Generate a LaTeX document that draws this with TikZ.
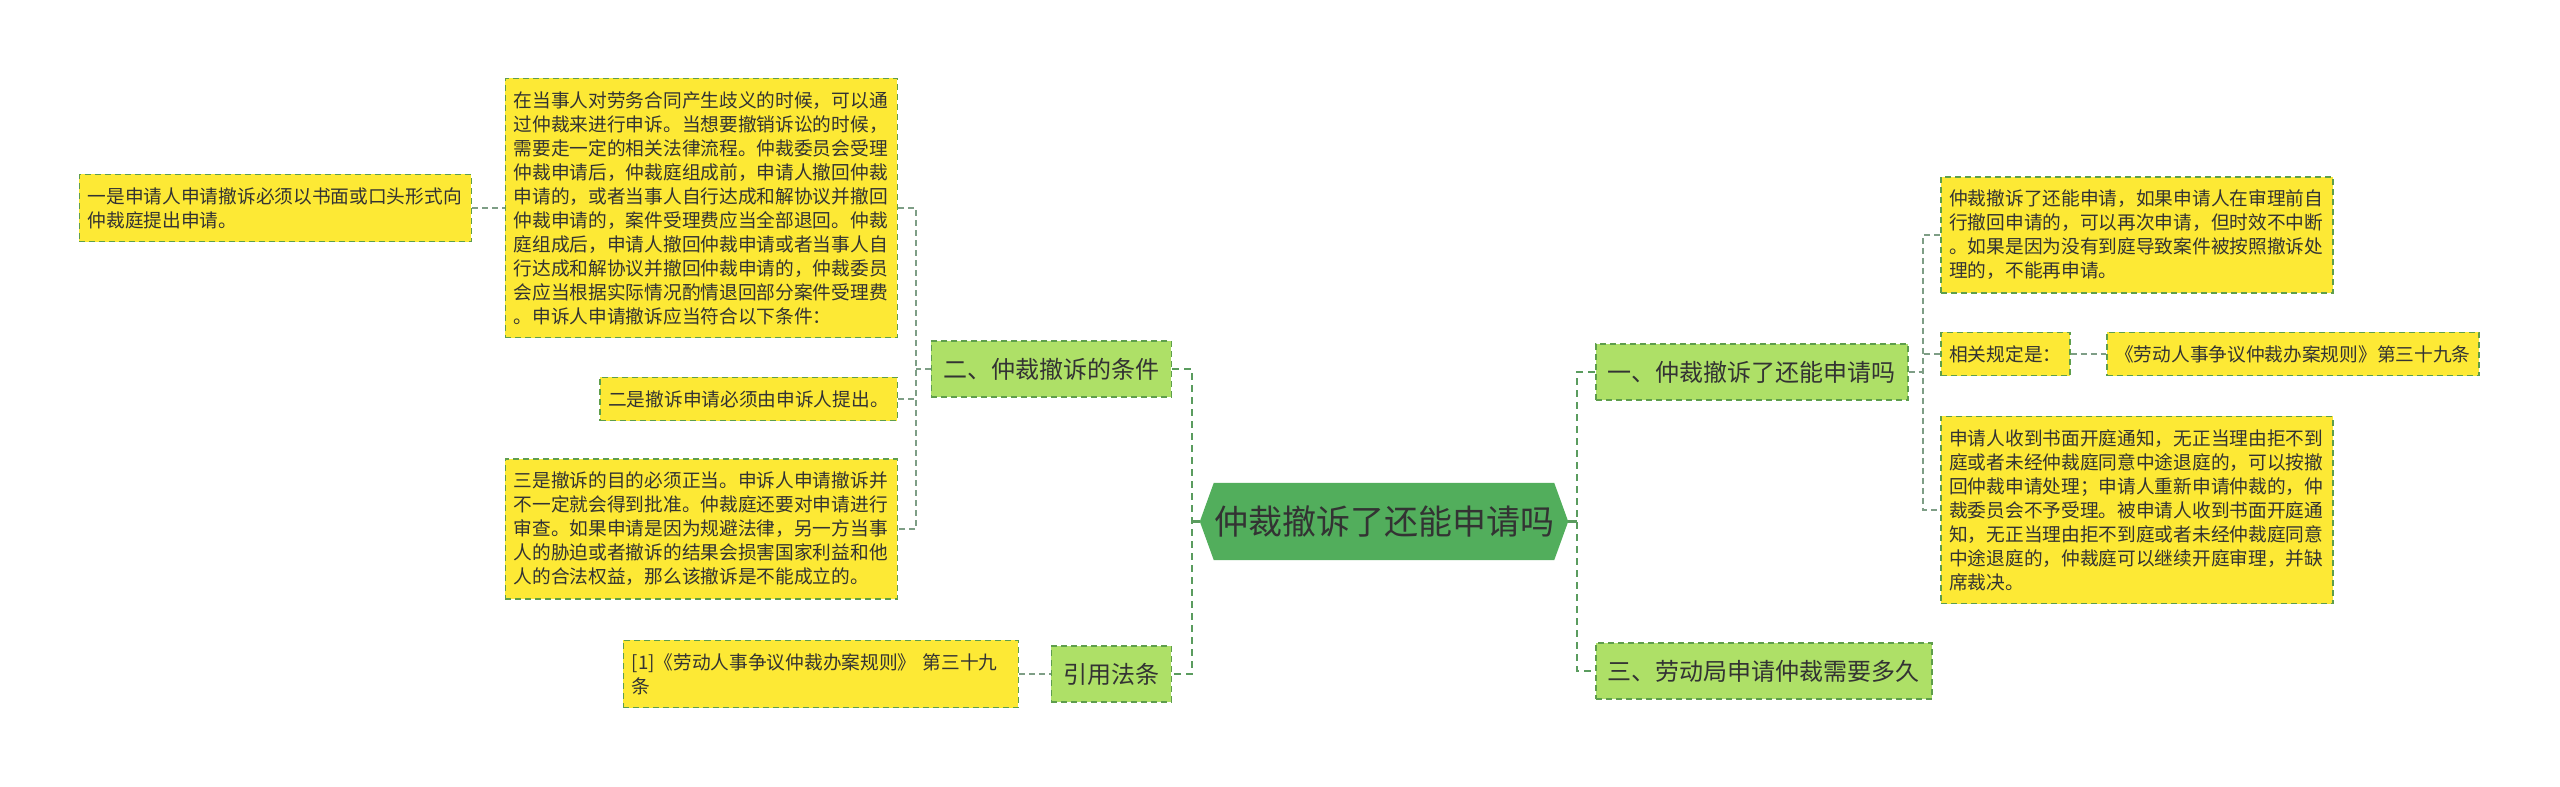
\documentclass[tikz,border=0pt]{standalone}
\usepackage{fontspec}
\setmainfont{Noto Sans CJK SC}
\usetikzlibrary{backgrounds}
\definecolor{yel}{HTML}{FDE935}
\definecolor{lgreen}{HTML}{AEE067}
\definecolor{cgreen}{HTML}{52AE5C}
\definecolor{bord}{HTML}{5E9E4C}
\definecolor{busc}{HTML}{5A9C5E}
\definecolor{subc}{HTML}{7E9E86}
\definecolor{txt}{HTML}{333333}
\begin{document}
\begin{tikzpicture}[x=1pt,y=-1pt,
 ybox/.style={rectangle, fill=yel, draw=bord, line width=1.5pt, dash pattern=on 6pt off 4pt, text=txt, font=\fontsize{18.7}{24}\selectfont, inner xsep=8.5pt, inner ysep=13pt, align=left},
 ybox20/.style={ybox, text width=375pt},
 gbox/.style={rectangle, fill=lgreen, draw=bord, line width=1.5pt, dash pattern=on 6pt off 4pt, text=txt, font=\fontsize{24}{28}\selectfont, inner xsep=12pt, inner ysep=0pt, minimum height=56pt},
 cnode/.style={rectangle, inner sep=0pt, minimum width=328pt, minimum height=77pt, text=txt, font=\fontsize{34}{40}\selectfont},
 bus/.style={draw=busc, line width=2.5pt, dash pattern=on 7pt off 5pt},
 subline/.style={draw=subc, line width=1.6pt, dash pattern=on 6pt off 4pt},
 stub/.style={draw=busc, line width=2.5pt}
]
\useasboundingbox (0,0) rectangle (2560,787);
\begin{scope}[on background layer]
\fill[white] (0,0) rectangle (2560,787);
\end{scope}

% central
\node[cnode] (c) at (1384,521.5) {仲裁撤诉了还能申请吗};
\begin{scope}[on background layer]
\fill[cgreen] (c.north west) -- ([xshift=-14pt]c.west) -- (c.south west) -- (c.south east) -- ([xshift=14pt]c.east) -- (c.north east) -- cycle;
\end{scope}
\coordinate (cL) at ([xshift=-14pt]c.west);
\coordinate (cR) at ([xshift=14pt]c.east);

% left side
\node[gbox, anchor=east] (n2) at (1172,369) {二、仲裁撤诉的条件};
\node[gbox, anchor=east] (nref) at (1172,674) {引用法条};
\node[ybox20, anchor=east] (big) at (898,208) {在当事人对劳务合同产生歧义的时候，可以通\\过仲裁来进行申诉。当想要撤销诉讼的时候，\\需要走一定的相关法律流程。仲裁委员会受理\\仲裁申请后，仲裁庭组成前，申请人撤回仲裁\\申请的，或者当事人自行达成和解协议并撤回\\仲裁申请的，案件受理费应当全部退回。仲裁\\庭组成后，申请人撤回仲裁申请或者当事人自\\行达成和解协议并撤回仲裁申请的，仲裁委员\\会应当根据实际情况酌情退回部分案件受理费\\。申诉人申请撤诉应当符合以下条件：};
\node[ybox20, anchor=east] (y1) at (472,208) {一是申请人申请撤诉必须以书面或口头形式向\\仲裁庭提出申请。};
\node[ybox, anchor=east] (y2) at (898,399) {二是撤诉申请必须由申诉人提出。};
\node[ybox20, anchor=east] (y3) at (898,529) {三是撤诉的目的必须正当。申诉人申请撤诉并\\不一定就会得到批准。仲裁庭还要对申请进行\\审查。如果申请是因为规避法律，另一方当事\\人的胁迫或者撤诉的结果会损害国家利益和他\\人的合法权益，那么该撤诉是不能成立的。};
\node[ybox, text width=378pt, anchor=east] (yref) at (1019,674) {[1]《劳动人事争议仲裁办案规则》 第三十九\\条};

% right side
\node[gbox, anchor=west] (n1) at (1595,372) {一、仲裁撤诉了还能申请吗};
\node[gbox, anchor=west] (n3) at (1595,671) {三、劳动局申请仲裁需要多久};
\node[ybox20, anchor=west] (rt) at (1940,235) {仲裁撤诉了还能申请，如果申请人在审理前自\\行撤回申请的，可以再次申请，但时效不中断\\。如果是因为没有到庭导致案件被按照撤诉处\\理的，不能再申请。};
\node[ybox, anchor=west] (rrel) at (1940,354) {相关规定是：};
\node[ybox, anchor=west] (rlaw) at (2106,354) {《劳动人事争议仲裁办案规则》第三十九条};
\node[ybox20, anchor=west] (rb) at (1940,510) {申请人收到书面开庭通知，无正当理由拒不到\\庭或者未经仲裁庭同意中途退庭的，可以按撤\\回仲裁申请处理；申请人重新申请仲裁的，仲\\裁委员会不予受理。被申请人收到书面开庭通\\知，无正当理由拒不到庭或者未经仲裁庭同意\\中途退庭的，仲裁庭可以继续开庭审理，并缺\\席裁决。};

% connectors left
\coordinate (bL) at (1192,521.5);
\draw[stub] (cL) -- (bL);
\draw[bus] (n2.east) -| (bL) |- (nref.east);
\coordinate (b2) at (916,369);
\draw[subline] (n2.west) -- (b2);
\draw[subline] (big.east) -| (b2) |- (y3.east);
\draw[subline] (y2.east) -- (y2.east -| b2);
\draw[subline] (y1.east) -- (y1.east -| big.west);
\draw[subline] (yref.east) -- (nref.west);

% connectors right
\coordinate (bR) at (1577,521.5);
\draw[stub] (cR) -- (bR);
\draw[bus] (n1.west) -| (bR) |- (n3.west);
\coordinate (b1) at (1923,372);
\draw[subline] (n1.east) -- (b1);
\draw[subline] (rt.west) -| (b1) |- (rb.west);
\draw[subline] (rrel.west) -- (rrel.west -| b1);
\draw[subline] (rrel.east) -- (rlaw.west);
\end{tikzpicture}
\end{document}
